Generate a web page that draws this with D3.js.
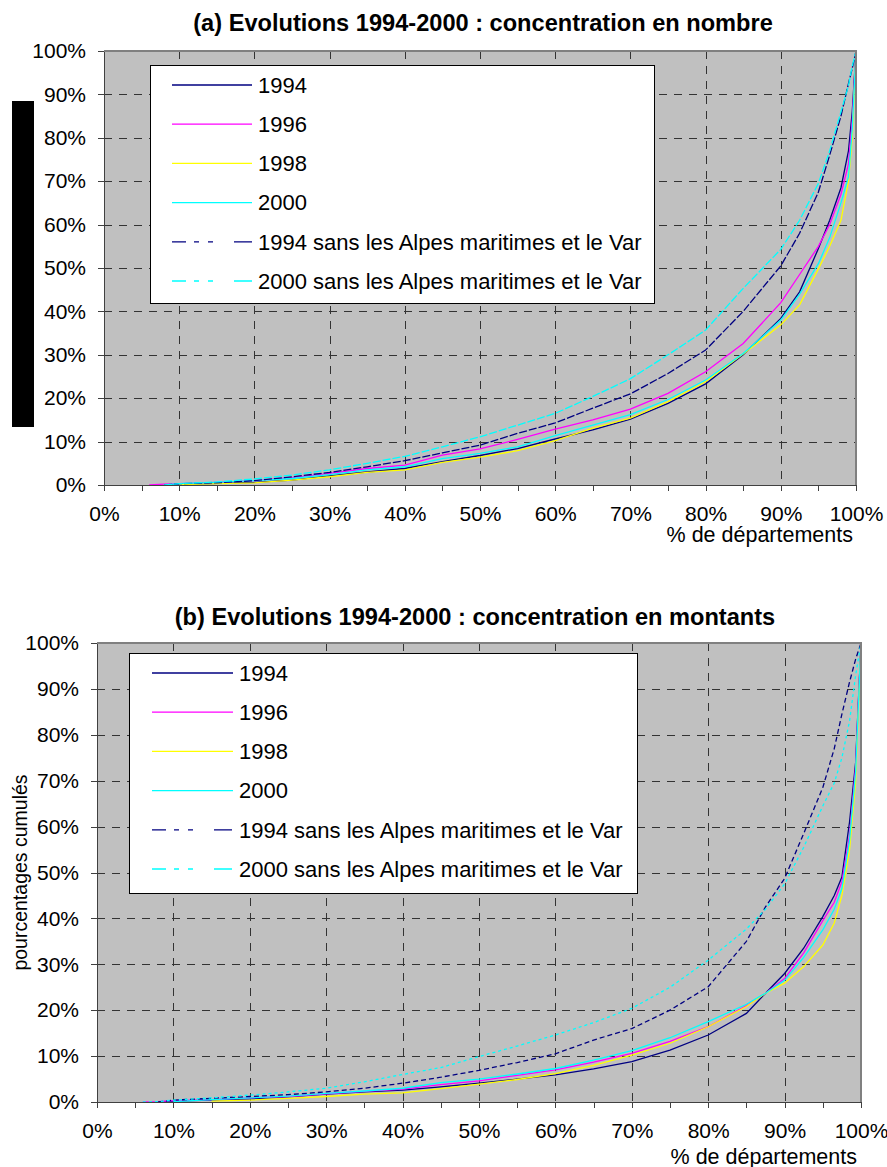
<!DOCTYPE html>
<meta charset="utf-8">
<style>
body { margin: 0; background: #fff; }
svg { display: block; font-family: "Liberation Sans", Arial, sans-serif; }
.grid line { stroke: #333; stroke-width: 1px; stroke-dasharray: 8,7; shape-rendering: crispEdges; }
.curve { fill: none; stroke-width: 1.3px; }
.axis path, .axis line { stroke: #404040; shape-rendering: crispEdges; }
.axis text { fill: #000; }
</style>
<svg width="887" height="1167"></svg>
<script src="https://d3js.org/d3.v7.min.js"></script>
<script>

var seriesNames = ["1994", "1996", "1998", "2000",
  "1994 sans les Alpes maritimes et le Var",
  "2000 sans les Alpes maritimes et le Var"];
var seriesColors = ["#000080", "#ff00ff", "#ffff00", "#00ffff", "#000080", "#00ffff"];
var gridTicks = [0, 10, 20, 30, 40, 50, 60, 70, 80, 90, 100];
var xMinorTicks = d3.range(0, 101, 5);

// (a) concentration en nombre -- % of departments vs cumulated %
var xsA = [6, 8, 10, 15, 20, 25, 30, 35, 40, 45, 50, 55, 60, 65, 70, 75, 80, 85, 90, 92.5, 95, 96.5, 98, 99, 99.5, 100];
var a1994   = [null, 0, 0.1, 0.4, 0.6, 1.1, 2.1, 3.0, 3.8, 5.4, 6.8, 8.4, 10.6, 12.7, 15.2, 18.8, 23.3, 30, 38.4, 44.5, 54.5, 61, 68.5, 77, 86, 100];
var a1996   = [0, 0.2, 0.3, 0.6, 1.0, 1.7, 2.7, 3.8, 4.6, 6.9, 8.3, 10.5, 12.9, 15, 17.5, 21.1, 26.1, 32.6, 42, 48.5, 55, 60, 67, 74, 84, 100];
var a1998   = [null, null, 0.1, 0.3, 0.5, 1.1, 1.9, 2.9, 3.5, 5.2, 6.4, 7.9, 10.2, 13.1, 15.4, 19.2, 23.8, 30.2, 36.9, 41.5, 49.8, 55, 61, 70, 80, 100];
var a2000   = [null, 0, 0.3, 0.6, 1.0, 1.5, 2.4, 3.5, 4.2, 6.1, 7.3, 8.8, 11.4, 13.8, 16.2, 19.7, 24.2, 30.3, 38, 44, 51, 57, 65, 71, 82, 100];
var a1994s  = [null, 0, 0.3, 0.5, 1.0, 1.9, 2.9, 4.2, 5.6, 7.4, 9.2, 11.9, 14.3, 17.7, 21, 25.7, 31.1, 40, 50.5, 58, 67.5, 76, 85, 92.5, 96, 100];
var a2000s  = [null, 0, 0.3, 0.7, 1.4, 2.3, 3.5, 5.0, 6.6, 8.8, 11.1, 13.8, 16.5, 20.4, 24.5, 30, 35.7, 45.3, 54.3, 61, 69.5, 77, 86, 92, 96.5, 100];

// (b) concentration en montants
var xsB = [6, 8, 10, 15, 20, 25, 30, 35, 40, 45, 50, 55, 60, 65, 70, 75, 80, 85, 87.5, 90, 92.5, 95, 96.5, 97.5, 98.5, 99.3, 100];
var b1994   = [null, 0, 0.2, 0.4, 0.7, 1.1, 1.7, 2.2, 2.6, 3.3, 4.1, 5.0, 5.9, 7.2, 8.8, 11.3, 14.6, 19.3, 23.7, 28, 33.5, 40.4, 45, 49, 61, 74, 100];
var b1996   = [0, 0.1, 0.3, 0.5, 0.9, 1.2, 1.8, 2.3, 2.8, 3.8, 4.6, 5.8, 7.0, 8.7, 10.6, 13.2, 16.4, 21, 23.7, 26.9, 32.5, 39.5, 43.5, 48, 58, 73, 100];
var b1998   = [null, null, null, 0.2, 0.4, 0.8, 1.2, 1.7, 2.0, 2.9, 3.9, 4.9, 6.2, 8.0, 10.2, 12.8, 16.4, 20.8, 23.7, 25.9, 29.5, 34.2, 39, 45, 55, 70, 100];
var b2000   = [null, null, 0.1, 0.5, 0.9, 1.3, 1.9, 2.4, 3.0, 4.2, 5.0, 6.1, 7.3, 9.1, 11.2, 14.0, 17.5, 21.3, 23.7, 26.5, 31.5, 37.5, 42, 46.5, 57, 72, 100];
var b1994s  = [null, 0, 0.4, 0.8, 1.2, 1.6, 2.2, 3.0, 4.1, 5.4, 6.9, 8.6, 10.5, 13.5, 16, 20, 25.1, 35, 42.5, 48.7, 58.5, 68.5, 77, 84.5, 91.5, 96.5, 100];
var b2000s  = [0, 0.1, 0.4, 0.9, 1.5, 2.2, 3.0, 4.4, 6.0, 7.5, 9.9, 12.2, 14.6, 17.3, 20.4, 25, 30.9, 37.7, 42, 47.5, 55.5, 64.5, 69.5, 75, 83, 93, 100];

var svg = d3.select("svg");

function drawChart(c) {
  var x = d3.scaleLinear().domain([0, 100]).range([c.left, c.right]),
      y = d3.scaleLinear().domain([0, 100]).range([c.bottom, c.top]);

  var g = svg.append("g");

  g.append("text")
      .attr("x", c.titleX).attr("y", c.titleY)
      .attr("text-anchor", "middle")
      .style("font-weight", "bold").style("font-size", "23.6px")
      .text(c.title);

  g.append("rect")
      .attr("x", c.left).attr("y", c.top)
      .attr("width", c.right - c.left).attr("height", c.bottom - c.top)
      .attr("fill", "#c0c0c0");

  var grid = g.append("g").attr("class", "grid");
  grid.selectAll(".h").data(gridTicks.slice(1, -1)).enter().append("line")
      .attr("x1", c.left).attr("x2", c.right)
      .attr("y1", function(d) { return Math.round(y(d)) + 0.5; })
      .attr("y2", function(d) { return Math.round(y(d)) + 0.5; });
  grid.selectAll(".v").data(gridTicks.slice(1, -1)).enter().append("line")
      .attr("y1", c.top).attr("y2", c.bottom)
      .attr("x1", function(d) { return Math.round(x(d)) + 0.5; })
      .attr("x2", function(d) { return Math.round(x(d)) + 0.5; });

  var line = d3.line()
      .defined(function(d) { return d[1] != null; })
      .x(function(d) { return x(d[0]); })
      .y(function(d) { return y(d[1]); });

  c.series.forEach(function(vals, i) {
    g.append("path")
        .attr("class", "curve")
        .attr("d", line(c.xs.map(function(v, j) { return [v, vals[j]]; })))
        .attr("stroke", seriesColors[i])
        .attr("stroke-dasharray", i >= 4 ? c.dash[i - 4] : null);
  });

  // legend
  var lg = g.append("g");
  lg.append("rect")
      .attr("x", c.legend.x + 0.5).attr("y", c.legend.y + 0.5)
      .attr("width", c.legend.w).attr("height", c.legend.h)
      .attr("fill", "#fff").attr("stroke", "#000").attr("stroke-width", 1);
  seriesNames.forEach(function(name, i) {
    var ly = c.legend.row0 + i * c.legend.step;
    lg.append("line")
        .attr("x1", c.legend.lx1).attr("x2", c.legend.lx2)
        .attr("y1", ly).attr("y2", ly)
        .attr("stroke", seriesColors[i]).attr("stroke-width", 1.3)
        .attr("stroke-dasharray", i >= 4 ? "14,8,5,9,5,21,18" : null);
    lg.append("text")
        .attr("x", c.legend.tx).attr("y", ly).attr("dy", "0.35em")
        .style("font-size", "22px")
        .text(name);
  });

  // frame
  g.append("path")
      .attr("d", "M" + c.left + "," + c.top + "H" + c.right + "V" + c.bottom)
      .attr("fill", "none").attr("stroke", "#808080").attr("stroke-width", 2);

  g.append("g")
      .attr("class", "axis")
      .attr("transform", "translate(" + c.left + ",0)")
      .call(d3.axisLeft(y).tickValues(gridTicks).tickSize(6).tickSizeOuter(0).tickPadding(12)
        .tickFormat(function(d) { return d + "%"; }))
      .attr("font-family", null).attr("font-size", 21);

  g.append("g")
      .attr("class", "axis")
      .attr("transform", "translate(0," + c.bottom + ")")
      .call(d3.axisBottom(x).tickValues(xMinorTicks).tickSize(6).tickSizeOuter(0).tickPadding(15)
        .tickFormat(function(d) { return d % 10 === 0 ? d + "%" : ""; }))
      .attr("font-family", null).attr("font-size", 21);

  g.append("text")
      .attr("x", c.xLabelX).attr("y", c.xLabelY)
      .attr("text-anchor", "end")
      .style("font-size", "21.5px")
      .text("% de départements");

  if (c.yLabel) {
    g.append("text")
        .attr("transform", "translate(" + c.yLabelX + "," + ((c.top + c.bottom) / 2) + ") rotate(-90)")
        .attr("text-anchor", "middle")
        .style("font-size", "19.5px")
        .text(c.yLabel);
  }
  return g;
}

drawChart({
  title: "(a) Evolutions 1994-2000 : concentration en nombre",
  titleX: 483, titleY: 31,
  left: 104, right: 856, top: 51, bottom: 485,
  xs: xsA, series: [a1994, a1996, a1998, a2000, a1994s, a2000s],
  dash: ["8,2", "8,2"],
  legend: {x: 150, y: 65, w: 504, h: 238, lx1: 172, lx2: 252, tx: 258, row0: 85, step: 39.2},
  xLabelX: 853, xLabelY: 542
});

// masked axis title block on the first chart
svg.append("rect")
    .attr("x", 12).attr("y", 101).attr("width", 22).attr("height", 326)
    .attr("fill", "#000");

drawChart({
  title: "(b) Evolutions 1994-2000 : concentration en montants",
  titleX: 475, titleY: 625,
  left: 97, right: 861, top: 643, bottom: 1102,
  xs: xsB, series: [b1994, b1996, b1998, b2000, b1994s, b2000s],
  dash: ["5,3", "3,3"],
  legend: {x: 129, y: 653, w: 508, h: 240, lx1: 152, lx2: 233, tx: 239, row0: 673, step: 39.2},
  xLabelX: 857, xLabelY: 1164,
  yLabel: "pourcentages cumulés", yLabelX: 27
});

</script>
